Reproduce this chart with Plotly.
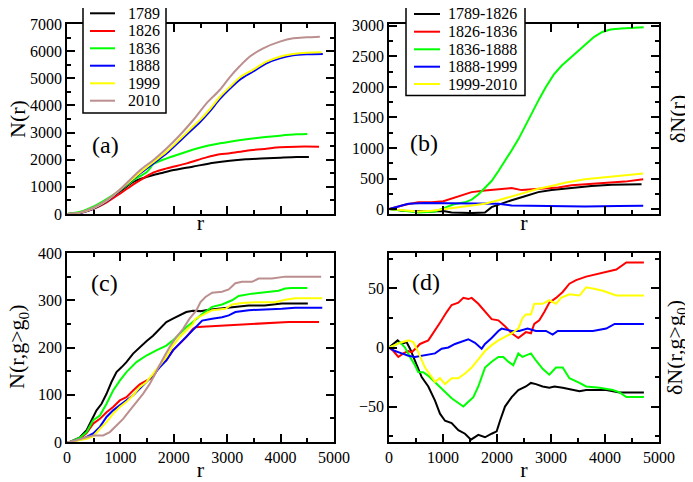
import plotly.graph_objects as go

# ---------------- Panel (a): N(r) ----------------
a_labels = ["1789", "1826", "1836", "1888", "1999", "2010"]
a_1789_r = [0, 250, 500, 750, 1000, 1250, 1372, 1500, 1620, 1750, 2000, 2350, 2750, 3050, 3350, 3750, 4000, 4300, 4530]
a_1789_v = [0, 60, 230, 500, 840, 1190, 1290, 1375, 1440, 1500, 1620, 1744, 1890, 1965, 2014, 2051, 2075, 2100, 2100]
a_1826_r = [0, 250, 500, 750, 1000, 1250, 1372, 1620, 1868, 2240, 2612, 2860, 3050, 3362, 3736, 3986, 4298, 4720]
a_1826_v = [0, 40, 190, 440, 761, 1100, 1250, 1530, 1682, 1866, 2087, 2198, 2235, 2333, 2407, 2456, 2481, 2481]
a_1836_r = [0, 250, 500, 750, 1000, 1250, 1500, 1620, 1868, 2240, 2612, 2860, 3050, 3362, 3674, 3986, 4298, 4500]
a_1836_v = [0, 80, 280, 560, 880, 1250, 1560, 1840, 2050, 2296, 2505, 2603, 2665, 2751, 2825, 2886, 2935, 2947]
a_1888_r = [0, 250, 500, 750, 1000, 1372, 1620, 1868, 2116, 2364, 2488, 2674, 2860, 3053, 3237, 3487, 3736, 3986, 4236, 4485, 4790]
a_1888_v = [0, 40, 200, 480, 884, 1498, 1866, 2235, 2690, 3150, 3380, 3780, 4230, 4620, 4950, 5250, 5551, 5734, 5845, 5882, 5894]
a_1999_r = [0, 250, 500, 750, 1000, 1372, 1620, 1868, 2116, 2364, 2488, 2674, 2860, 3053, 3237, 3487, 3736, 3986, 4236, 4485, 4766]
a_1999_v = [0, 50, 220, 500, 900, 1530, 1920, 2300, 2760, 3230, 3460, 3860, 4310, 4690, 5030, 5320, 5612, 5796, 5894, 5943, 5955]
a_2010_r = [0, 250, 500, 750, 1000, 1372, 1620, 1868, 2116, 2364, 2612, 2860, 3053, 3237, 3424, 3674, 3986, 4236, 4485, 4735]
a_2010_v = [0, 60, 240, 520, 920, 1621, 1990, 2419, 2910, 3463, 4077, 4568, 5050, 5450, 5800, 6103, 6349, 6472, 6508, 6533]

# ---------------- Panel (b): dN(r) ----------------
b_labels = ["1789-1826", "1826-1836", "1836-1888", "1888-1999", "1999-2010"]
b_1_r = [0, 150, 300, 512, 790, 1006, 1160, 1530, 1777, 1900, 2024, 2270, 2517, 2764, 3011, 3381, 3751, 4122, 4677]
b_1_v = [0, -20, -30, -30, -40, -30, -55, -65, -55, 33, 72, 145, 210, 278, 311, 350, 378, 400, 405]
b_2_r = [0, 296, 543, 790, 1006, 1283, 1530, 1777, 2024, 2270, 2456, 2641, 2888, 3134, 3381, 3628, 3875, 4122, 4368, 4708]
b_2_v = [0, 72, 111, 111, 128, 211, 278, 305, 322, 344, 311, 322, 333, 355, 389, 405, 416, 433, 450, 489]
b_3_r = [0, 296, 543, 851, 1006, 1200, 1407, 1530, 1654, 1777, 1900, 2024, 2150, 2270, 2400, 2520, 2650, 2780, 2900, 3050, 3200, 3350, 3500, 3650, 3800, 3950, 4100, 4300, 4500, 4716]
b_3_v = [0, -28, -55, -40, 17, 80, 111, 155, 239, 350, 460, 620, 790, 960, 1150, 1360, 1580, 1800, 1990, 2200, 2350, 2470, 2580, 2710, 2820, 2900, 2940, 2955, 2960, 2975]
b_4_r = [0, 173, 358, 666, 1006, 1468, 2024, 2270, 2517, 3011, 3628, 4245, 4708]
b_4_v = [0, 44, 89, 100, 100, 89, 89, 61, 56, 50, 44, 50, 56]
b_5_r = [0, 234, 543, 790, 1006, 1283, 1530, 1777, 2024, 2270, 2517, 2764, 3011, 3258, 3628, 3998, 4368, 4708]
b_5_v = [0, -22, -40, -28, 0, 33, 56, 89, 145, 211, 267, 333, 378, 433, 489, 522, 555, 583]

# ---------------- Panel (c): N(r, g>g0) ----------------
c_1789_r = [0, 56, 243, 367, 460, 553, 647, 740, 833, 927, 1020, 1113, 1238, 1362, 1487, 1611, 1735, 1860, 1984, 2109, 2233, 2357, 2500, 2656, 2967, 3402, 3700, 4024, 4510]
c_1789_v = [0, 0, 10, 25, 46, 67, 81, 102, 127, 148, 158, 169, 187, 201, 213, 225, 239, 254, 261, 268, 275, 278, 277, 280, 284, 289, 289, 293, 293]
c_1826_r = [0, 56, 243, 367, 491, 616, 740, 864, 989, 1113, 1238, 1362, 1487, 1611, 1735, 1860, 1984, 2109, 2233, 2357, 2407, 2531, 2904, 3215, 3526, 4148, 4720]
c_1826_v = [0, 0, 7, 19, 39, 49, 63, 74, 88, 95, 109, 122, 130, 137, 162, 173, 194, 208, 222, 239, 243, 244, 246, 249, 250, 254, 254]
c_1836_r = [0, 56, 243, 367, 491, 616, 740, 864, 989, 1113, 1300, 1487, 1673, 1860, 1984, 2109, 2233, 2357, 2531, 2718, 2904, 3091, 3215, 3464, 3713, 3962, 4086, 4210, 4500]
c_1836_v = [0, 0, 9, 21, 46, 56, 81, 109, 130, 148, 169, 183, 194, 204, 215, 229, 243, 254, 271, 286, 291, 300, 309, 314, 317, 320, 325, 326, 326]
c_1888_r = [0, 56, 305, 491, 616, 740, 864, 989, 1113, 1238, 1362, 1487, 1611, 1735, 1860, 1984, 2109, 2233, 2376, 2531, 2718, 2904, 3029, 3153, 3402, 3713, 4024, 4273, 4780]
c_1888_v = [0, 0, 7, 18, 32, 53, 67, 77, 88, 99, 113, 127, 141, 158, 173, 194, 208, 222, 239, 257, 261, 264, 268, 275, 279, 280, 282, 284, 284]
c_1999_r = [0, 56, 367, 491, 616, 740, 864, 989, 1113, 1238, 1362, 1487, 1611, 1735, 1860, 1984, 2109, 2233, 2357, 2407, 2531, 2718, 2967, 3091, 3278, 3526, 3900, 4086, 4273, 4780]
c_1999_v = [0, 0, 7, 12, 28, 42, 60, 74, 85, 99, 116, 127, 144, 162, 180, 204, 222, 236, 250, 261, 268, 279, 282, 291, 294, 296, 296, 301, 304, 304]
c_2010_r = [0, 56, 367, 491, 678, 802, 927, 1051, 1176, 1300, 1424, 1549, 1673, 1798, 1922, 2047, 2171, 2295, 2420, 2500, 2593, 2718, 2904, 3029, 3153, 3278, 3464, 3589, 3837, 4086, 4760]
c_2010_v = [0, 0, 10, 14, 14, 21, 35, 49, 67, 85, 102, 123, 151, 176, 201, 222, 239, 261, 278, 296, 307, 316, 318, 323, 336, 339, 339, 346, 346, 350, 350]

# ---------------- Panel (d): dN(r, g>g0) ----------------
d_1_r = [0, 80, 160, 235, 327, 389, 481, 605, 728, 852, 944, 1037, 1160, 1284, 1407, 1518, 1654, 1778, 1901, 1994, 2056, 2148, 2272, 2395, 2535, 2628, 2721, 2845, 2969, 3062, 3217, 3341, 3527, 3651, 4023, 4271, 4720]
d_1_v = [0, 3, 6, 3, 4.5, -1, -11, -25, -33, -45, -56, -62, -64, -70, -73, -78, -74, -76, -73, -71, -62, -50, -42, -36, -33, -30, -31, -33, -34, -33, -34, -35, -37, -36, -36, -38, -38]
d_2_r = [0, 80, 173, 265, 358, 420, 512, 574, 728, 852, 944, 1068, 1160, 1284, 1377, 1469, 1531, 1654, 1778, 1901, 2025, 2148, 2272, 2395, 2535, 2628, 2690, 2783, 2876, 2969, 3093, 3217, 3341, 3465, 3651, 3837, 4054, 4209, 4395, 4720]
d_2_v = [0, -3, -8, -5, -3, -4, 0, 3, 6, 14, 21, 30, 36, 38, 42, 41, 42, 37, 30, 24, 23, 18, 12, 8, 13, 12, 20, 23, 30, 38, 42, 47, 54, 57, 60, 62, 64, 66, 72, 72]
d_3_r = [0, 111, 204, 296, 389, 481, 543, 636, 728, 821, 944, 1068, 1160, 1284, 1377, 1469, 1562, 1654, 1716, 1778, 1901, 2025, 2117, 2210, 2302, 2395, 2470, 2535, 2628, 2721, 2845, 2969, 3093, 3217, 3341, 3527, 3651, 3899, 4147, 4271, 4395, 4720]
d_3_v = [0, 2, 4.5, 0, -8, -15, -21, -21, -24, -28, -33, -39, -43, -47, -50, -46, -42, -33, -24, -17, -12, -8, -8, -12, -15, -5, -8, -7, -5, -11, -18, -23, -17, -17, -26, -30, -33, -34, -36, -38, -42, -42]
d_4_r = [0, 111, 235, 358, 481, 605, 728, 852, 975, 1099, 1222, 1346, 1469, 1593, 1716, 1778, 1901, 2025, 2086, 2272, 2411, 2566, 2721, 2907, 3031, 3124, 3341, 3775, 4023, 4178, 4720]
d_4_v = [0, -3, -5, -7, -8, -7, -6, -5, -1, 0, 3, 5, 7, 4, -1, 3, 8, 14, 16, 14, 14, 16, 14, 14, 11, 14, 14, 14, 16, 20, 20]
d_5_r = [0, 111, 235, 358, 451, 512, 574, 667, 790, 852, 944, 1037, 1160, 1284, 1407, 1531, 1654, 1778, 1901, 2025, 2148, 2272, 2395, 2473, 2535, 2628, 2690, 2845, 2969, 3093, 3186, 3341, 3527, 3651, 3775, 3961, 4209, 4720]
d_5_v = [0, 2, 4.5, 6, 4.5, -1, -8, -17, -25, -29, -26, -31, -26, -26, -22, -17, -10, -3, 2, 6, 9, 12, 16, 25, 28, 28, 37, 37, 40, 37, 42, 45, 44, 51, 50, 48, 44, 44]

colors6 = ["#000000", "#ff0000", "#00ff00", "#0000ff", "#ffff00", "#bc8f8f"]
colors5 = ["#000000", "#ff0000", "#00ff00", "#0000ff", "#ffff00"]
FONT = "Liberation Serif"

fig = go.Figure()

a_series = [(a_1789_r, a_1789_v), (a_1826_r, a_1826_v), (a_1836_r, a_1836_v),
            (a_1888_r, a_1888_v), (a_1999_r, a_1999_v), (a_2010_r, a_2010_v)]
for (r, v), name, col in zip(a_series, a_labels, colors6):
    fig.add_trace(go.Scatter(x=r, y=v, mode="lines", name=name, xaxis="x", yaxis="y",
                             line=dict(color=col, width=2, shape="spline", smoothing=0.8)))

b_series = [(b_1_r, b_1_v), (b_2_r, b_2_v), (b_3_r, b_3_v), (b_4_r, b_4_v), (b_5_r, b_5_v)]
for (r, v), name, col in zip(b_series, b_labels, colors5):
    fig.add_trace(go.Scatter(x=r, y=v, mode="lines", name=name, xaxis="x2", yaxis="y2",
                             line=dict(color=col, width=2)))

c_series = [(c_1789_r, c_1789_v), (c_1826_r, c_1826_v), (c_1836_r, c_1836_v),
            (c_1888_r, c_1888_v), (c_1999_r, c_1999_v), (c_2010_r, c_2010_v)]
for (r, v), name, col in zip(c_series, a_labels, colors6):
    fig.add_trace(go.Scatter(x=r, y=v, mode="lines", name=name, xaxis="x3", yaxis="y3",
                             line=dict(color=col, width=2)))

d_series = [(d_1_r, d_1_v), (d_2_r, d_2_v), (d_3_r, d_3_v), (d_4_r, d_4_v), (d_5_r, d_5_v)]
for (r, v), name, col in zip(d_series, b_labels, colors5):
    fig.add_trace(go.Scatter(x=r, y=v, mode="lines", name=name, xaxis="x4", yaxis="y4",
                             line=dict(color=col, width=2)))

# page body has an 8px margin; figure sized to fill the rest of the window
OFF = 8
W, H = 693 - OFF, 482 - OFF
def px_x(p): return (p - OFF) / W
def px_y(p): return 1 - (p - OFF) / H

dom_xl = [px_x(67), px_x(334)]
dom_xr = [px_x(389), px_x(659)]
dom_yt = [px_y(214), px_y(24)]
dom_yb = [px_y(442), px_y(253)]

def ax(domain, anchor, rng, dtick, minor, labels=True, title=None, standoff=None):
    d = dict(domain=domain, anchor=anchor, range=rng, dtick=dtick, tick0=0,
             showline=True, linecolor="black", linewidth=1.5, mirror="allticks",
             ticks="inside", ticklen=8, tickwidth=1.5, tickcolor="black",
             showgrid=False, zeroline=False, showticklabels=labels,
             tickfont=dict(family=FONT, size=16, color="black"),
             minor=dict(dtick=minor, ticks="inside", ticklen=4, tickwidth=1.5,
                        tickcolor="black", showgrid=False),
             automargin=False)
    if title is not None:
        d["title"] = dict(text=title, font=dict(family=FONT, size=22, color="black"),
                          standoff=standoff)
    return d

fig.update_layout(
    width=W, height=H, margin=dict(l=0, r=0, t=0, b=0),
    paper_bgcolor="white", plot_bgcolor="white",
    font=dict(family=FONT, color="black"),
    showlegend=False,
    xaxis=ax(dom_xl, "y", [0, 5000], 1000, 500, labels=False, title="r", standoff=0),
    yaxis=ax(dom_yt, "x", [0, 7000], 1000, 500),
    xaxis2=ax(dom_xr, "y2", [0, 5000], 1000, 500, labels=False, title="r", standoff=0),
    yaxis2=ax(dom_yt, "x2", [-80, 3030], 500, 250),
    xaxis3=ax(dom_xl, "y3", [0, 5000], 1000, 500, title="r", standoff=0),
    yaxis3=ax(dom_yb, "x3", [0, 400], 100, 50),
    xaxis4=ax(dom_xr, "y4", [0, 5000], 1000, 500, title="r", standoff=0),
    yaxis4=ax(dom_yb, "x4", [-80, 80], 50, 25),
)

# legends (boxed, as in the original)
def add_legend(labels, cols, box, line_x, text_x, ys, fsize):
    x0, y0, x1, y1 = box
    fig.add_shape(type="rect", xref="paper", yref="paper",
                  x0=px_x(x0), x1=px_x(x1), y0=px_y(y1), y1=px_y(y0),
                  line=dict(color="black", width=1.5), fillcolor="white", layer="above")
    for lab, col, yy in zip(labels, cols, ys):
        fig.add_shape(type="line", xref="paper", yref="paper",
                      x0=px_x(line_x[0]), x1=px_x(line_x[1]), y0=px_y(yy), y1=px_y(yy),
                      line=dict(color=col, width=2), layer="above")
        fig.add_annotation(text=lab, x=px_x(text_x), y=px_y(yy), xref="paper", yref="paper",
                           showarrow=False, xanchor="left", yanchor="middle",
                           font=dict(family=FONT, size=fsize, color="black"))

add_legend(a_labels, colors6, (83, -5, 166, 113), (90, 115), 126,
           [13.3, 31, 48.3, 65.7, 83.3, 100.7], 16)
add_legend(b_labels, colors5, (406, -5, 525, 95.5), (414, 440), 446,
           [14, 31.7, 49.3, 66.7, 84], 16)

ann_font = dict(family=FONT, size=24, color="black")
for txt, xp, yp in [("(a)", 105, 145), ("(b)", 424, 143), ("(c)", 104, 283), ("(d)", 426, 282)]:
    fig.add_annotation(text=txt, x=px_x(xp), y=px_y(yp), xref="paper", yref="paper",
                       showarrow=False, font=ann_font, xanchor="center", yanchor="middle")

tfont = dict(family=FONT, size=22, color="black")
for txt, xp, yp in [("N(r)", 17, 119), ("N(r,g&gt;g<sub>0</sub>)", 18, 347),
                    ("δN(r)", 677, 119), ("δN(r,g&gt;g<sub>0</sub>)", 676, 348)]:
    fig.add_annotation(text=txt, x=px_x(xp), y=px_y(yp), xref="paper", yref="paper",
                       showarrow=False, font=tfont, textangle=-90,
                       xanchor="center", yanchor="middle")

fig.write_html("out.html")
